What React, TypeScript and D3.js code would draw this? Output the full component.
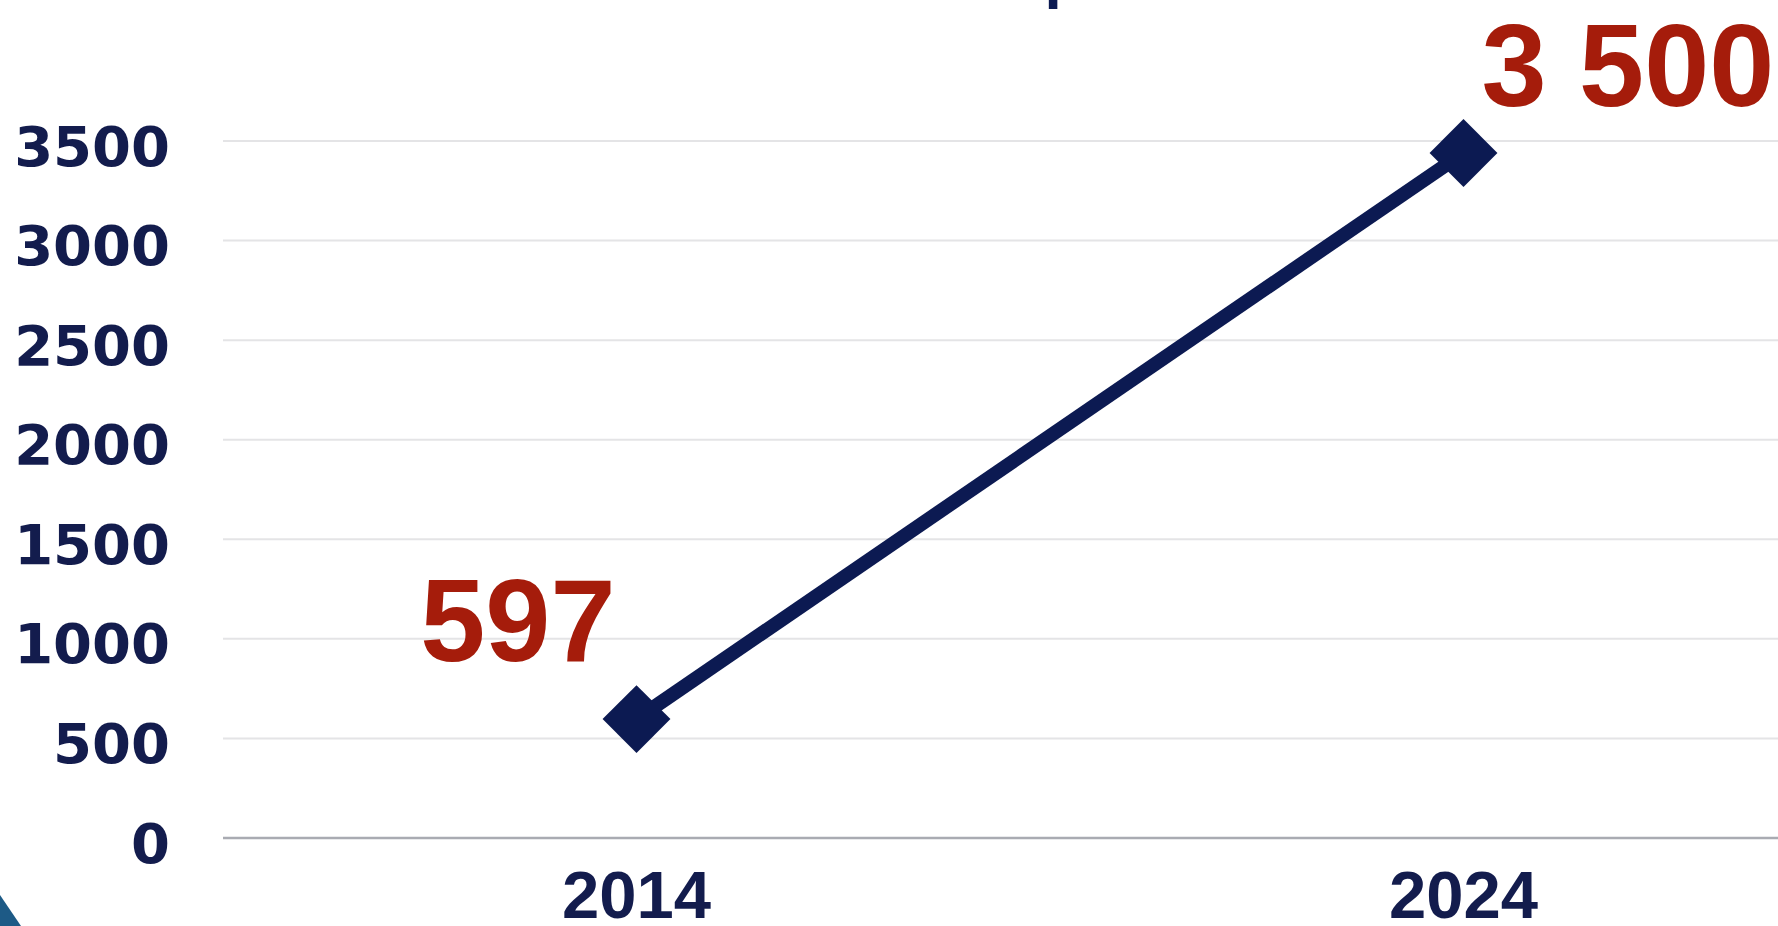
import { useCallback, useEffect, useRef } from 'react';

import { axisLeft, line, scaleBand, scaleLinear, select } from 'd3';

const years = ['2014', '2024'];
const counts = [597, 3440];
const valueLabels = ['597', '3 500'];
const yTicks = [0, 500, 1000, 1500, 2000, 2500, 3000, 3500];
const title = 'Количество приложений';

const NAVY = '#0c1a52';
const RED = '#a51c0b';

export default function App() {
  const containerRef = useRef<HTMLDivElement>(null);

  const initChart = useCallback(() => {
    const container = containerRef.current;
    if (!container) return;

    // dimensions of the picture and the plot area
    const width = 1778,
      height = 926,
      left = 223,
      bandWidth = 827,
      top = 141,
      bottom = 838;

    const div = select(container);
    div.select('svg').remove();

    const svg = div
      .append('svg')
      .attr('width', width)
      .attr('height', height)
      .style('position', 'absolute')
      .style('left', 0)
      .style('top', 0)
      .style('background', '#fff');

    const x = scaleBand<string>()
      .domain(years)
      .range([left, left + bandWidth * years.length]);
    const y = scaleLinear().domain([0, 3500]).range([bottom, top]);

    // gridlines
    svg
      .append('g')
      .selectAll('line')
      .data(yTicks)
      .join('line')
      .attr('x1', left)
      .attr('x2', width)
      .attr('y1', (d) => y(d))
      .attr('y2', (d) => y(d))
      .attr('stroke', (d) => (d === 0 ? '#a9abb2' : '#e4e4e6'))
      .attr('stroke-width', (d) => (d === 0 ? 2.5 : 2));

    // y axis labels
    const yAxis = svg
      .append('g')
      .attr('transform', `translate(${left - 53},0)`)
      .call(
        axisLeft(y)
          .tickValues(yTicks)
          .tickSize(0)
          .tickPadding(0)
          .tickFormat((d) => String(d))
      );
    yAxis.select('.domain').remove();
    yAxis
      .selectAll('text')
      .attr('font-family', '"DejaVu Sans", sans-serif')
      .attr('font-weight', 700)
      .attr('font-size', 56)
      .attr('fill', '#131c4d')
      .attr('dy', 24)
      .attr('text-anchor', 'end');

    // x axis labels
    svg
      .append('g')
      .selectAll('text')
      .data(years)
      .join('text')
      .attr('x', (d) => x(d)! + x.bandwidth() / 2)
      .attr('y', 918)
      .attr('text-anchor', 'middle')
      .attr('font-family', '"Liberation Sans", Arial, sans-serif')
      .attr('font-weight', 700)
      .attr('font-size', 67)
      .attr('fill', '#131c4d')
      .text((d) => d);

    // line and markers
    const pts: [number, number][] = years.map((yr, i) => [
      x(yr)! + x.bandwidth() / 2,
      y(counts[i]),
    ]);

    svg
      .append('path')
      .attr('d', line()(pts))
      .attr('fill', 'none')
      .attr('stroke', NAVY)
      .attr('stroke-width', 14);

    svg
      .append('g')
      .selectAll('rect')
      .data(pts)
      .join('rect')
      .attr('x', -24)
      .attr('y', -24)
      .attr('width', 48)
      .attr('height', 48)
      .attr('fill', NAVY)
      .attr('transform', (d) => `translate(${d[0]},${d[1]}) rotate(45)`);

    // value labels
    svg
      .append('g')
      .attr('font-family', '"Liberation Sans", Arial, sans-serif')
      .attr('font-weight', 700)
      .attr('font-size', 117)
      .attr('fill', RED)
      .selectAll('text')
      .data(pts)
      .join('text')
      .attr('x', (d, i) => (i === 0 ? d[0] - 21 : d[0] + 18))
      .attr('y', (d, i) => (i === 0 ? d[1] - 58 : d[1] - 47))
      .attr('text-anchor', (d, i) => (i === 0 ? 'end' : 'start'))
      .text((d, i) => valueLabels[i]);

    // title, almost all of it cropped off the top
    svg
      .append('text')
      .attr('x', 1008)
      .attr('y', -4)
      .attr('text-anchor', 'middle')
      .attr('font-family', '"Liberation Sans", Arial, sans-serif')
      .attr('font-weight', 700)
      .attr('font-size', 62)
      .attr('fill', NAVY)
      .text(title);

    // slide decoration in the corner
    svg
      .append('path')
      .attr('d', 'M0,895 L21,926 L0,926 Z')
      .attr('fill', '#1d5a86');
  }, []);

  const destroyChart = useCallback(() => {
    const container = containerRef.current;
    if (!container) return;

    select(container).select('svg').remove();
  }, []);

  useEffect(() => {
    initChart();
    return destroyChart;
  }, [destroyChart, initChart]);

  return <div ref={containerRef} />;
}
